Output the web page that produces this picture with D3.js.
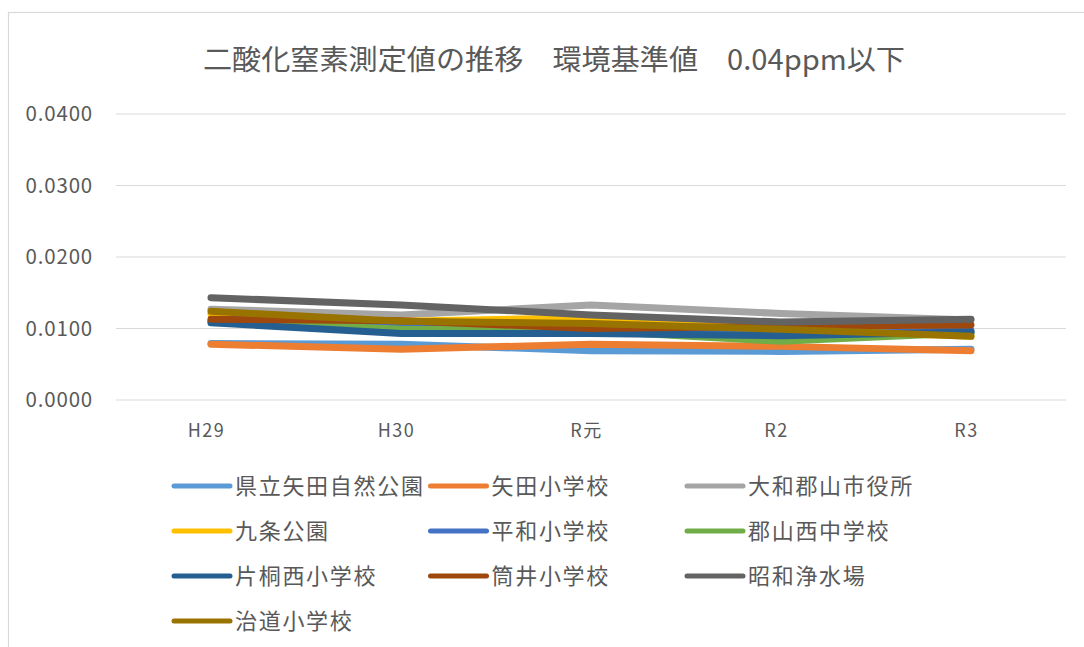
<!DOCTYPE html>
<html lang="ja">
<head>
<meta charset="utf-8">
<script src="https://cdn.jsdelivr.net/npm/d3@7"></script>
<style>
  html, body { margin: 0; padding: 0; background: #ffffff; }
  svg { display: block; }
  text { font-family: "Noto Sans CJK JP", "Noto Sans", sans-serif; fill: #595959; }
</style>
</head>
<body>
<svg id="chart" width="1084" height="647"></svg>
<script>
// Fiscal years
const categories = ["H29", "H30", "R元", "R2", "R3"];

// Monitoring stations (legend order)
const stations = [
  "県立矢田自然公園", "矢田小学校", "大和郡山市役所",
  "九条公園", "平和小学校", "郡山西中学校",
  "片桐西小学校", "筒井小学校", "昭和浄水場",
  "治道小学校"
];

// Annual mean NO2 (ppm) per station
const kenritsuYata = [0.0079, 0.0078, 0.0069, 0.0068, 0.0071];
const yataSho      = [0.0078, 0.0071, 0.0078, 0.0075, 0.0069];
const shiyakusho   = [0.0127, 0.0119, 0.0133, 0.0121, 0.0112];
const kujoKoen     = [0.0120, 0.0110, 0.0115, 0.0099, 0.0089];
const heiwaSho     = [0.0110, 0.0103, 0.0096, 0.0091, 0.0097];
const nishiChu     = [0.0111, 0.0099, 0.0097, 0.0082, 0.0094];
const katagiriSho  = [0.0108, 0.0093, 0.0093, 0.0090, 0.0095];
const tsutsuiSho   = [0.0113, 0.0111, 0.0100, 0.0103, 0.0105];
const showaJosui   = [0.0143, 0.0133, 0.0119, 0.0109, 0.0113];
const hatta        = [0.0124, 0.0110, 0.0107, 0.0099, 0.0089];

const seriesValues = [kenritsuYata, yataSho, shiyakusho, kujoKoen, heiwaSho,
                      nishiChu, katagiriSho, tsutsuiSho, showaJosui, hatta];

const colors = ["#5B9BD5", "#ED7D31", "#A5A5A5", "#FFC000", "#4472C4",
                "#70AD47", "#255E91", "#9E480E", "#636363", "#997300"];

const yTicks = [0, 0.01, 0.02, 0.03, 0.04];

const titleText = "二酸化窒素測定値の推移　環境基準値　0.04ppm以下";

const svg = d3.select("#chart");

// chart frame
svg.append("rect")
  .attr("x", 8.5).attr("y", 12.5)
  .attr("width", 1100).attr("height", 700)
  .attr("fill", "#ffffff")
  .attr("stroke", "#d9d9d9").attr("stroke-width", 1.2);

const plot = { left: 116, right: 1066, top: 114, bottom: 400 };

const x = d3.scalePoint().domain(categories)
  .range([plot.left, plot.right]).padding(0.5);
const y = d3.scaleLinear().domain([0, 0.04])
  .range([plot.bottom, plot.top]);

// title
svg.append("text")
  .attr("x", 203).attr("y", 70)
  .attr("font-size", 28)
  .attr("textLength", 702)
  .attr("lengthAdjust", "spacingAndGlyphs")
  .text(titleText);

// horizontal gridlines
svg.append("g")
  .selectAll("line")
  .data(yTicks)
  .join("line")
  .attr("x1", plot.left).attr("x2", plot.right)
  .attr("y1", d => y(d)).attr("y2", d => y(d))
  .attr("stroke", "#d9d9d9").attr("stroke-width", 1.2);

// y axis labels
const yAxis = svg.append("g")
  .attr("transform", `translate(${plot.left - 23},0)`)
  .call(d3.axisLeft(y).tickValues(yTicks).tickFormat(d3.format(".4f")).tickSize(0).tickPadding(0));
yAxis.select(".domain").remove();
yAxis.selectAll("text")
  .attr("font-family", "'Noto Sans', sans-serif")
  .attr("font-size", 20.5)
  .attr("letter-spacing", 0.8)
  .attr("fill", "#595959");

// x axis labels
const xAxis = svg.append("g")
  .attr("transform", `translate(-5,${plot.bottom + 24})`)
  .call(d3.axisBottom(x).tickSize(0).tickPadding(0));
xAxis.select(".domain").remove();
xAxis.selectAll("text")
  .attr("font-family", "'Noto Sans CJK JP', sans-serif")
  .attr("font-size", 18)
  .attr("letter-spacing", 1.5)
  .attr("fill", "#595959");

// series lines
const line = d3.line()
  .x((d, i) => x(categories[i]))
  .y(d => y(d));

svg.append("g")
  .selectAll("path")
  .data(seriesValues)
  .join("path")
  .attr("d", d => line(d))
  .attr("fill", "none")
  .attr("stroke", (d, i) => colors[i])
  .attr("stroke-width", 7)
  .attr("stroke-linejoin", "round")
  .attr("stroke-linecap", "round");

// legend: three columns
const legend = svg.append("g");
const items = legend.selectAll("g")
  .data(stations)
  .join("g")
  .attr("transform", (d, i) => `translate(${174 + (i % 3) * 256.5},${486 + Math.floor(i / 3) * 45})`);

items.append("line")
  .attr("x1", 0).attr("x2", 56)
  .attr("y1", 0).attr("y2", 0)
  .attr("stroke", (d, i) => colors[i])
  .attr("stroke-width", 5)
  .attr("stroke-linecap", "round");

items.append("text")
  .attr("x", 61).attr("y", 0)
  .attr("dy", "0.36em")
  .attr("font-size", 22)
  .attr("letter-spacing", 1.7)
  .text(d => d);
</script>
</body>
</html>
